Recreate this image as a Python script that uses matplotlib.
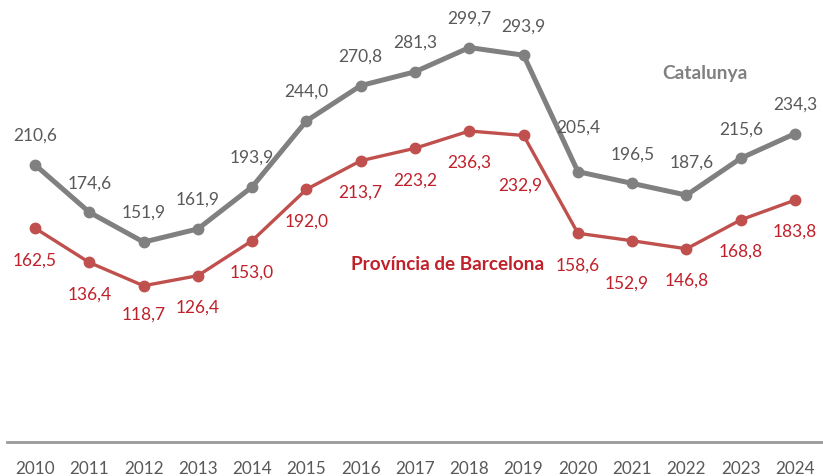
import matplotlib
matplotlib.use("Agg")
import matplotlib.pyplot as plt

plt.rcParams['font.family'] = ['Lato', 'DejaVu Sans']

# dades
years = [2010, 2011, 2012, 2013, 2014, 2015, 2016, 2017, 2018, 2019, 2020, 2021, 2022, 2023, 2024]
catalunya = [210.6, 174.6, 151.9, 161.9, 193.9, 244.0, 270.8, 281.3, 299.7, 293.9,
             205.4, 196.5, 187.6, 215.6, 234.3]
barcelona = [162.5, 136.4, 118.7, 126.4, 153.0, 192.0, 213.7, 223.2, 236.3, 232.9,
             158.6, 152.9, 146.8, 168.8, 183.8]

# desplaçaments de les etiquetes (pixels)
cat_off = [(0, 30)] * 15
cat_off[10] = (0, 45)
cat_off[12] = (5, 33)
bcn_off = [(0, -31)] * 15
bcn_off[2] = (0, -28)
bcn_off[9] = (-3, -49)
bcn_off[11] = (-6, -42)

gray = '#808080'
red = '#c0504d'
gray_txt = '#595959'
red_txt = '#c0202a'

fig = plt.figure(figsize=(8.23, 4.77), dpi=100)
ax = fig.add_axes([7 / 823, (477 - 443) / 477, 815 / 823, 443 / 477])

ax.plot(years, catalunya, color=gray, lw=3.6, marker='o', ms=7.5, zorder=3)
ax.plot(years, barcelona, color=red, lw=2.4, marker='o', ms=7.5, zorder=3)

for x, v, off in zip(years, catalunya, cat_off):
    ax.annotate(f"{v:.1f}".replace('.', ','), (x, v), xytext=off,
                textcoords='offset pixels', ha='center', va='center',
                fontsize=12.5, color=gray_txt)
for x, v, off in zip(years, barcelona, bcn_off):
    ax.annotate(f"{v:.1f}".replace('.', ','), (x, v), xytext=off,
                textcoords='offset pixels', ha='center', va='center',
                fontsize=12.5, color=red_txt)

ax.text(2017.6, 135.3, 'Província de Barcelona', color=red_txt, fontsize=13.6,
        fontweight='bold', ha='center', va='center')
ax.text(2022.34, 281, 'Catalunya', color=gray, fontsize=13.8,
        fontweight='bold', ha='center', va='center')

ax.set_xlim(2009.484, 2024.496)
ax.set_ylim(0, 336.6)
ax.set_xticks(years)
ax.set_yticks([])
ax.tick_params(axis='x', length=0, pad=13, labelsize=12.3, labelcolor=gray_txt)
for s in ['top', 'right', 'left']:
    ax.spines[s].set_visible(False)
ax.spines['bottom'].set_color('#999999')
ax.spines['bottom'].set_linewidth(2)

fig.savefig('out.png', dpi=100)
